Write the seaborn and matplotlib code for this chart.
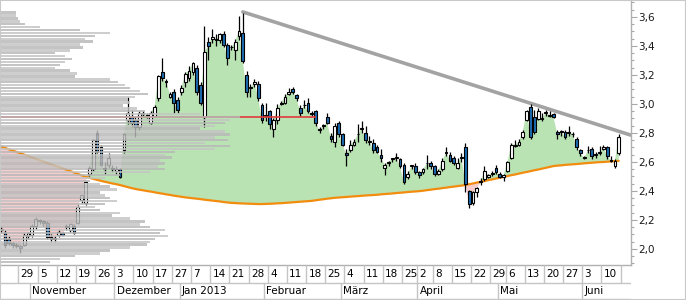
import numpy as np
import matplotlib
matplotlib.use('Agg')
import matplotlib.pyplot as plt
from matplotlib.ticker import FuncFormatter, MultipleLocator
from matplotlib.patches import Rectangle
import seaborn as sns

# daily candles, 22 Oct 2012 - 14 Jun 2013 (trading days only)
opens = [2.13, 2.11, 2.07, 2.04, 2.03, 2.02, 2.03, 2.09, 2.10, 2.16,
         2.20, 2.19, 2.18, 2.08, 2.07, 2.10, 2.11, 2.15, 2.13, 2.16,
         2.18, 2.34, 2.32, 2.52, 2.55, 2.80, 2.70, 2.56, 2.58, 2.56,
         2.54, 2.55, 2.68, 2.89, 2.91, 2.89, 2.84, 2.93, 2.92, 2.87,
         2.92, 3.04, 3.22, 3.15, 3.05, 3.08, 3.03, 3.08, 3.15, 3.18,
         3.22, 3.25, 3.13, 2.91, 3.43, 3.45, 3.44, 3.44, 3.48, 3.41,
         3.39, 3.37, 3.47, 3.49, 3.20, 3.11, 3.14, 3.14, 2.99, 2.92,
         2.95, 2.83, 2.89, 3.00, 3.01, 3.07, 3.10, 3.06, 2.97, 2.99,
         3.01, 2.94, 2.95, 2.83, 2.85, 2.91, 2.78, 2.74, 2.87, 2.79,
         2.66, 2.68, 2.72, 2.79, 2.83, 2.80, 2.74, 2.73, 2.70, 2.65,
         2.56, 2.59, 2.62, 2.63, 2.62, 2.58, 2.50, 2.57, 2.57, 2.53,
         2.53, 2.59, 2.59, 2.57, 2.52, 2.55, 2.66, 2.65, 2.63, 2.56,
         2.63, 2.70, 2.40, 2.32, 2.39, 2.46, 2.48, 2.50, 2.52, 2.56,
         2.52, 2.50, 2.54, 2.63, 2.71, 2.72, 2.77, 2.89, 2.98, 2.91,
         2.90, 2.90, 2.94, 2.92, 2.93, 2.81, 2.81, 2.81, 2.80, 2.79,
         2.76, 2.68, 2.63, 2.68, 2.69, 2.65, 2.66, 2.69, 2.70, 2.61,
         2.57, 2.66]
highs = [2.16, 2.13, 2.09, 2.05, 2.04, 2.03, 2.11, 2.12, 2.17, 2.22,
         2.21, 2.20, 2.19, 2.10, 2.09, 2.14, 2.12, 2.17, 2.18, 2.17,
         2.30, 2.38, 2.47, 2.57, 2.76, 2.82, 2.72, 2.60, 2.66, 2.58,
         2.57, 2.56, 2.80, 3.05, 2.96, 2.92, 2.95, 2.95, 2.94, 2.95,
         2.99, 3.20, 3.32, 3.17, 3.08, 3.10, 3.05, 3.13, 3.22, 3.26,
         3.29, 3.27, 3.15, 3.54, 3.46, 3.52, 3.48, 3.49, 3.50, 3.42,
         3.41, 3.45, 3.61, 3.63, 3.23, 3.14, 3.17, 3.16, 3.01, 3.01,
         2.96, 2.90, 3.00, 3.02, 3.07, 3.11, 3.12, 3.07, 2.99, 3.03,
         3.04, 2.95, 2.96, 2.84, 2.86, 2.94, 2.80, 2.87, 2.88, 2.80,
         2.69, 2.75, 2.76, 2.86, 2.88, 2.85, 2.78, 2.76, 2.72, 2.69,
         2.59, 2.61, 2.63, 2.66, 2.63, 2.59, 2.54, 2.58, 2.59, 2.54,
         2.56, 2.65, 2.61, 2.58, 2.55, 2.63, 2.70, 2.67, 2.64, 2.63,
         2.66, 2.73, 2.41, 2.40, 2.43, 2.49, 2.57, 2.52, 2.54, 2.58,
         2.53, 2.52, 2.61, 2.73, 2.75, 2.76, 2.82, 2.96, 3.00, 2.96,
         2.97, 2.94, 2.96, 2.95, 2.94, 2.82, 2.82, 2.82, 2.85, 2.81,
         2.77, 2.69, 2.64, 2.71, 2.70, 2.67, 2.71, 2.72, 2.71, 2.64,
         2.62, 2.79]
lows = [2.11, 2.01, 2.03, 2.01, 2.01, 1.97, 2.02, 2.07, 2.08, 2.14,
        2.17, 2.16, 2.07, 2.05, 2.05, 2.08, 2.09, 2.13, 2.12, 2.10,
        2.17, 2.32, 2.30, 2.50, 2.54, 2.66, 2.57, 2.52, 2.56, 2.53,
        2.52, 2.49, 2.66, 2.86, 2.84, 2.77, 2.82, 2.91, 2.90, 2.86,
        2.91, 3.02, 3.16, 3.12, 3.04, 2.94, 2.94, 3.06, 3.12, 3.16,
        3.20, 3.06, 2.99, 2.84, 3.30, 3.42, 3.40, 3.42, 3.39, 3.27,
        3.37, 3.30, 3.44, 3.28, 3.05, 3.05, 3.12, 3.02, 2.87, 2.88,
        2.83, 2.77, 2.86, 2.99, 3.00, 3.06, 3.07, 3.02, 2.92, 2.97,
        2.94, 2.92, 2.85, 2.80, 2.83, 2.86, 2.74, 2.70, 2.77, 2.71,
        2.57, 2.67, 2.71, 2.74, 2.80, 2.73, 2.72, 2.66, 2.66, 2.60,
        2.51, 2.57, 2.60, 2.61, 2.56, 2.45, 2.48, 2.55, 2.52, 2.49,
        2.52, 2.55, 2.55, 2.50, 2.51, 2.54, 2.64, 2.60, 2.58, 2.55,
        2.60, 2.39, 2.28, 2.30, 2.36, 2.44, 2.47, 2.49, 2.50, 2.52,
        2.49, 2.47, 2.53, 2.62, 2.70, 2.71, 2.76, 2.88, 2.76, 2.79,
        2.89, 2.88, 2.92, 2.91, 2.90, 2.76, 2.78, 2.76, 2.78, 2.77,
        2.68, 2.64, 2.62, 2.66, 2.62, 2.63, 2.65, 2.68, 2.62, 2.60,
        2.56, 2.65]
closes = [2.14, 2.03, 2.04, 2.03, 2.02, 2.01, 2.10, 2.11, 2.16, 2.21,
          2.19, 2.18, 2.08, 2.07, 2.07, 2.12, 2.10, 2.16, 2.17, 2.11,
          2.29, 2.37, 2.46, 2.56, 2.75, 2.67, 2.58, 2.55, 2.63, 2.55,
          2.55, 2.50, 2.79, 2.94, 2.87, 2.84, 2.94, 2.93, 2.92, 2.94,
          2.98, 3.19, 3.18, 3.15, 3.07, 3.01, 2.96, 3.11, 3.21, 3.23,
          3.28, 3.08, 3.01, 3.36, 3.40, 3.46, 3.44, 3.48, 3.41, 3.32,
          3.39, 3.43, 3.50, 3.30, 3.08, 3.11, 3.15, 3.04, 2.89, 2.92,
          2.86, 2.89, 2.97, 3.01, 3.05, 3.08, 3.08, 3.04, 2.94, 2.99,
          2.95, 2.93, 2.87, 2.82, 2.85, 2.87, 2.76, 2.85, 2.79, 2.72,
          2.65, 2.72, 2.74, 2.79, 2.83, 2.75, 2.74, 2.68, 2.67, 2.63,
          2.58, 2.60, 2.62, 2.63, 2.57, 2.46, 2.52, 2.57, 2.53, 2.51,
          2.55, 2.59, 2.57, 2.52, 2.54, 2.61, 2.66, 2.61, 2.59, 2.59,
          2.63, 2.45, 2.31, 2.39, 2.42, 2.46, 2.54, 2.51, 2.52, 2.53,
          2.50, 2.51, 2.60, 2.72, 2.72, 2.74, 2.81, 2.95, 2.77, 2.81,
          2.95, 2.90, 2.94, 2.92, 2.91, 2.79, 2.81, 2.77, 2.81, 2.79,
          2.70, 2.66, 2.63, 2.68, 2.64, 2.65, 2.66, 2.70, 2.64, 2.61,
          2.61, 2.77]
moving_avg = [2.707, 2.697, 2.688, 2.679, 2.670, 2.660, 2.651, 2.642, 2.632, 2.622,
              2.613, 2.603, 2.594, 2.584, 2.575, 2.566, 2.556, 2.547, 2.538, 2.528,
              2.518, 2.508, 2.499, 2.491, 2.484, 2.477, 2.470, 2.464, 2.458, 2.452,
              2.447, 2.441, 2.434, 2.427, 2.420, 2.414, 2.409, 2.405, 2.400, 2.396,
              2.391, 2.386, 2.382, 2.377, 2.373, 2.368, 2.364, 2.360, 2.356, 2.353,
              2.350, 2.347, 2.344, 2.340, 2.337, 2.334, 2.331, 2.328, 2.324, 2.321,
              2.318, 2.317, 2.315, 2.314, 2.313, 2.312, 2.311, 2.310, 2.310, 2.311,
              2.312, 2.313, 2.315, 2.316, 2.318, 2.320, 2.322, 2.324, 2.326, 2.328,
              2.330, 2.332, 2.336, 2.340, 2.343, 2.347, 2.350, 2.353, 2.355, 2.357,
              2.359, 2.361, 2.363, 2.365, 2.367, 2.369, 2.371, 2.372, 2.374, 2.377,
              2.379, 2.381, 2.383, 2.386, 2.388, 2.390, 2.393, 2.395, 2.397, 2.399,
              2.402, 2.406, 2.409, 2.413, 2.416, 2.420, 2.423, 2.427, 2.430, 2.434,
              2.437, 2.441, 2.447, 2.452, 2.458, 2.463, 2.469, 2.475, 2.480, 2.486,
              2.492, 2.497, 2.503, 2.509, 2.514, 2.520, 2.526, 2.531, 2.537, 2.543,
              2.548, 2.554, 2.560, 2.566, 2.572, 2.575, 2.577, 2.580, 2.582, 2.584,
              2.586, 2.588, 2.591, 2.593, 2.595, 2.597, 2.599, 2.600, 2.602, 2.604,
              2.606, 2.608]

# volume profile, price levels from 3.63 downwards in 0.02 steps
profile_top = 3.63
profile_step = 0.02
profile_vol = [16, 16, 18, 20, 25, 40, 80, 110, 95, 85,
               93, 80, 83, 70, 55, 65, 72, 65, 60, 55,
               70, 77, 75, 110, 118, 125, 130, 140, 148, 135,
               128, 130, 123, 137, 145, 200, 240, 230, 225, 215,
               200, 225, 230, 215, 228, 205, 230, 215, 175, 165,
               172, 160, 165, 158, 165, 150, 120, 105, 90, 100,
               110, 117, 100, 105, 110, 117, 105, 95, 100, 120,
               112, 130, 145, 140, 150, 165, 160, 168, 155, 150,
               147, 130, 110, 100, 75, 60, 50]
poc_price = 2.91
poc_end = 82

trend_x = [63, 164.2]
trend_y = [3.635, 2.785]

week_pos = [5, 10, 15, 20, 25, 30, 35, 40, 45, 50, 55, 60, 65, 70, 75, 80,
            85, 90, 95, 100, 105, 109, 113, 118, 123, 128, 132, 137, 142,
            147, 152, 157]
week_labels = ['29', '5', '12', '19', '26', '3', '10', '17', '27', '7', '14',
               '21', '28', '4', '11', '18', '25', '4', '11', '18', '25', '2',
               '8', '15', '22', '29', '6', '13', '20', '27', '3', '10']
month_pos = [8, 30, 47, 69, 89, 109, 130, 152]
month_labels = ['November', 'Dezember', 'Jan 2013', 'Februar', 'März',
                'April', 'Mai', 'Juni']

sns.set_style('white')
plt.rcParams['font.family'] = ['DejaVu Sans']

W, H = 686, 300
XL = (-0.3, 164.2)
fig = plt.figure(figsize=(W / 100, H / 100), dpi=100)
ax = fig.add_axes([0, 35 / H, 631 / W, 264 / H])

o, hi, lo, c = (np.array(a) for a in (opens, highs, lows, closes))
ma = np.array(moving_avg)
idx = np.arange(len(c))

# area between price and moving average
ax.fill_between(idx, ma, c, where=c >= ma, interpolate=True, color='#b9e3b3', lw=0, zorder=1)
ax.fill_between(idx, ma, c, where=c < ma, interpolate=True, color='#f6cccc', lw=0, zorder=1)
sns.lineplot(x=idx, y=ma, color='#f28c0f', lw=1.6, ax=ax, zorder=2)
sns.lineplot(x=trend_x, y=trend_y, color='#a3a3a3', lw=2.6, ax=ax, zorder=2)

# candles
up = c >= o
body_lo = np.minimum(o, c)
body_h = np.maximum(np.abs(c - o), 0.006)
ax.vlines(idx, lo, hi, color='black', lw=0.9, zorder=3)
ax.bar(idx[up], body_h[up], bottom=body_lo[up], width=0.72, color='white',
       edgecolor='black', lw=0.8, zorder=4)
ax.bar(idx[~up], body_h[~up], bottom=body_lo[~up], width=0.72, color='#1c6cb3',
       edgecolor='black', lw=0.8, zorder=4)

ax.hlines(poc_price, XL[0], poc_end, color='#e03a3a', lw=1.2, zorder=5)

ax.set_xlim(*XL)
ax.set_ylim(3.6 - 248 / 145, 3.6 + 16 / 145)
ax.yaxis.tick_right()
ax.yaxis.set_major_locator(MultipleLocator(0.2))
ax.yaxis.set_minor_locator(MultipleLocator(0.05))
ax.yaxis.set_major_formatter(FuncFormatter(lambda v, p: f'{v:.1f}'.replace('.', ',')))
ax.tick_params(axis='y', which='major', length=4, width=0.8, color='#a8a8a8',
               pad=1.5, labelsize=7.5, labelcolor='#1a1a1a', right=True, left=False)
ax.tick_params(axis='y', which='minor', length=2, width=0.8, color='#a8a8a8', right=True)
ax.set_xticks([])
for s in ['left', 'top']:
    ax.spines[s].set_visible(False)
for s in ['right', 'bottom']:
    ax.spines[s].set_color('#b0b0b0')
    ax.spines[s].set_linewidth(1.0)

# volume profile on top
ax2 = ax.twiny()
levels = profile_top - profile_step * np.arange(len(profile_vol))
shades = ['#b8b8b8' if k % 2 == 0 else '#c4c4c4' for k in range(len(profile_vol))]
ax2.barh(levels, profile_vol, height=0.0172, color=shades, alpha=0.82, lw=0, zorder=6)
ax2.set_xlim(0, 631)
ax2.set_ylim(ax.get_ylim())
ax2.set_xticks([])
for s in ax2.spines.values():
    s.set_visible(False)

# date rows below
axd = fig.add_axes([0, 0, 631 / W, 35 / H])
axd.set_xlim(*XL)
axd.set_ylim(0, 35)
axd.axis('off')
sep = '#c4c4c4'
axd.hlines(17.5, XL[0], XL[1], color=sep, lw=1)
axd.hlines(0.8, XL[0], XL[1], color=sep, lw=1)
for p, lab in zip(week_pos, week_labels):
    axd.vlines(p - 0.5, 17.5, 35, color=sep, lw=1)
    axd.text(p - 0.5 + 0.6, 26, lab, fontsize=7.5, va='center', ha='left', color='black')
axd.vlines(len(c) - 0.5, 17.5, 35, color=sep, lw=1)
for p, lab in zip(month_pos, month_labels):
    axd.vlines(p - 0.5, 0.8, 17.5, color=sep, lw=1)
    axd.text(p - 0.5 + 0.6, 8.5, lab, fontsize=7.5, va='center', ha='left', color='black')

fig.patches.append(Rectangle((0, 0), 1, 1, transform=fig.transFigure, fill=False,
                             edgecolor='#c8c8c8', lw=1.5))

fig.savefig('out.png', dpi=100)
plt.close(fig)
